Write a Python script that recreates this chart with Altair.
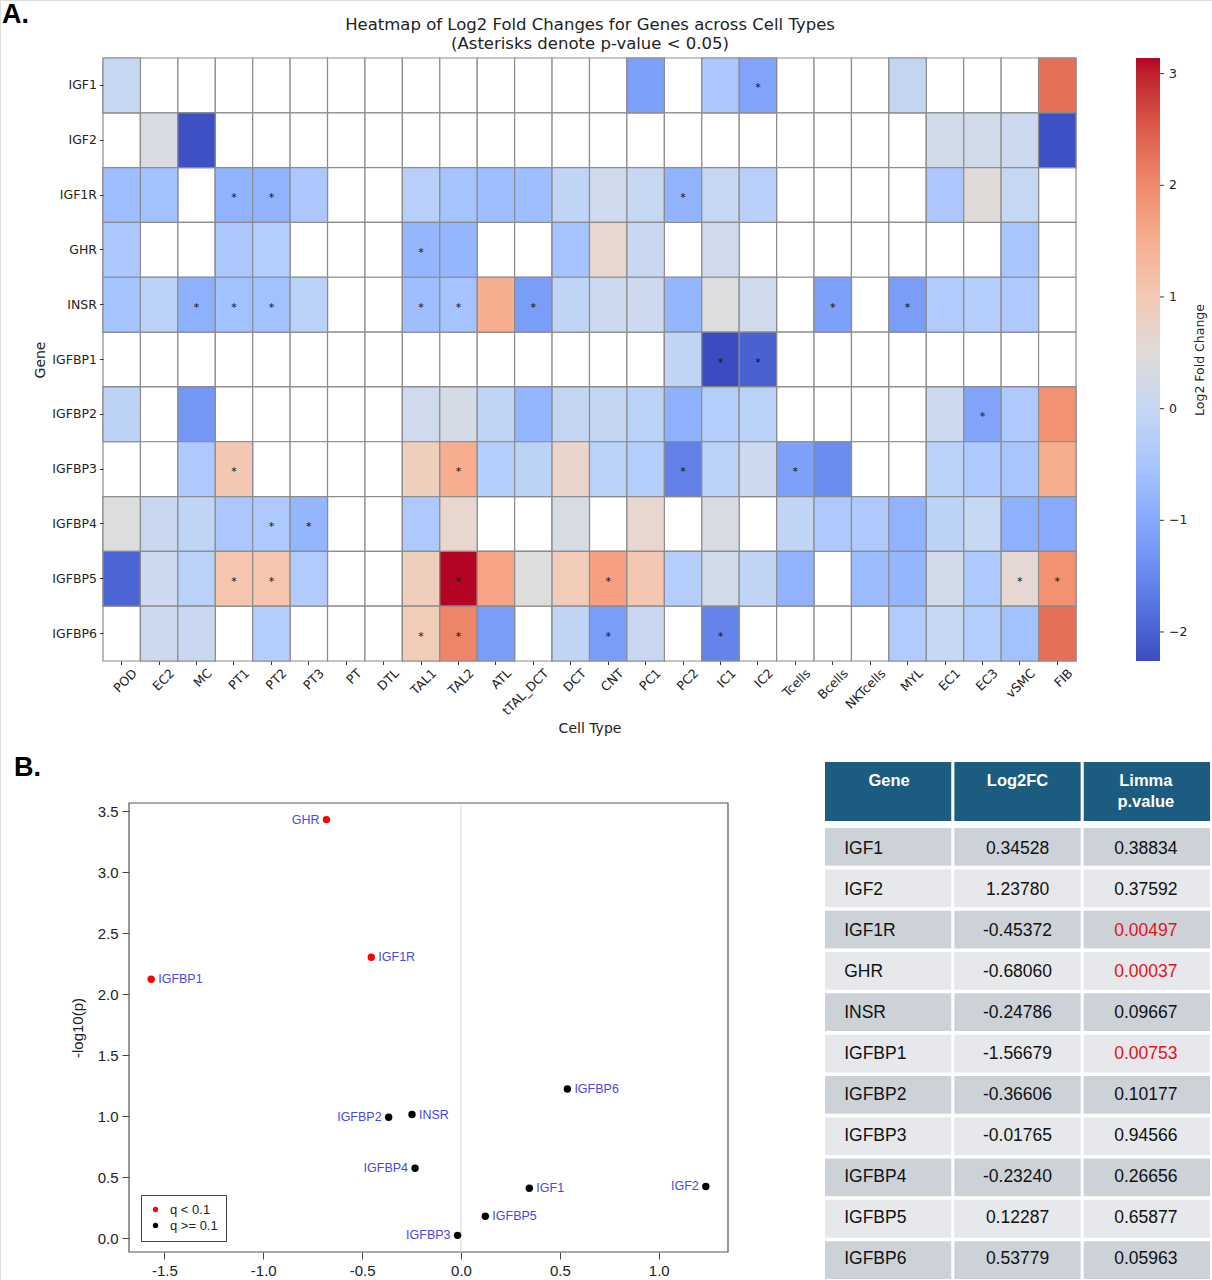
import altair as alt
import numpy as np
import pandas as pd

# ---------------------------------------------------------------- panel A data
GENES = ["IGF1", "IGF2", "IGF1R", "GHR", "INSR", "IGFBP1",
         "IGFBP2", "IGFBP3", "IGFBP4", "IGFBP5", "IGFBP6"]
CELL_TYPES = ["POD", "EC2", "MC", "PT1", "PT2", "PT3", "PT", "DTL", "TAL1", "TAL2",
              "ATL", "tTAL_DCT", "DCT", "CNT", "PC1", "PC2", "IC1", "IC2", "Tcells",
              "Bcells", "NKTcells", "MYL", "EC1", "EC3", "vSMC", "FIB"]
N = None
# log2 fold change per gene, one value per cell type (None = not tested)
#              POD    EC2    MC     PT1    PT2    PT3    PT DTL  TAL1   TAL2   ATL    tTAL   DCT    CNT    PC1    PC2    IC1    IC2    Tc     Bc     NKT    MYL    EC1    EC3    vSMC   FIB
LFC_IGF1   = [0.00,  N,     N,     N,     N,     N,     N, N,   N,     N,     N,     N,     N,     N,     -1.15, N,     -0.45, -1.10, N,     N,     N,     -0.05, N,     N,     N,     2.30]
LFC_IGF2   = [N,     0.30,  -2.20, N,     N,     N,     N, N,   N,     N,     N,     N,     N,     N,     N,     N,     N,     N,     N,     N,     N,     N,     0.20,  0.20,  0.10,  -2.20]
LFC_IGF1R  = [-0.65, -0.60, N,     -0.85, -0.85, -0.45, N, N,   -0.25, -0.55, -0.65, -0.65, -0.10, 0.15,  0.00,  -0.85, 0.00,  -0.25, N,     N,     N,     N,     -0.45, 0.50,  0.00,  N]
LFC_GHR    = [-0.45, N,     N,     -0.45, -0.30, N,     N, N,   -0.80, -0.80, N,     N,     -0.55, 0.65,  0.05,  N,     0.15,  N,     N,     N,     N,     N,     N,     N,     -0.50, N]
LFC_INSR   = [-0.55, -0.20, -0.90, -0.60, -0.60, -0.20, N, N,   -0.65, -0.55, 1.50,  -1.20, -0.10, 0.10,  0.10,  -0.80, 0.40,  0.15,  N,     -1.15, N,     -1.20, -0.35, -0.30, -0.40, N]
LFC_IGFBP1 = [N,     N,     N,     N,     N,     N,     N, N,   N,     N,     N,     N,     N,     N,     N,     -0.10, -2.26, -2.00, N,     N,     N,     N,     N,     N,     N,     N]
LFC_IGFBP2 = [-0.15, N,     -1.30, N,     N,     N,     N, N,   0.15,  0.25,  -0.10, -0.80, -0.05, -0.05, -0.20, -0.90, -0.30, -0.20, N,     N,     N,     N,     0.10,  -1.10, -0.40, 1.90]
LFC_IGFBP3 = [N,     N,     -0.40, 1.05,  N,     N,     N, N,   0.90,  1.50,  -0.30, -0.15, 0.70,  -0.20, -0.30, -1.60, -0.20, 0.10,  -1.15, -1.45, N,     N,     -0.20, -0.40, -0.50, 1.50]
LFC_IGFBP4 = [0.40,  0.05,  -0.10, -0.45, -0.40, -0.80, N, N,   -0.40, 0.65,  N,     N,     0.30,  N,     0.65,  N,     0.30,  N,     -0.10, -0.40, -0.40, -0.85, -0.15, 0.00,  -0.90, -1.00]
LFC_IGFBP5 = [-1.95, 0.10,  -0.20, 1.10,  1.10,  -0.35, N, N,   0.90,  3.14,  1.65,  0.45,  0.95,  1.70,  1.05,  -0.30, 0.20,  -0.10, -0.85, N,     -0.70, -0.80, 0.20,  -0.40, 0.60,  1.90]
LFC_IGFBP6 = [N,     0.10,  0.05,  N,     -0.30, N,     N, N,   0.95,  2.05,  -1.20, N,     -0.10, -1.20, 0.05,  N,     -1.55, N,     N,     N,     N,     -0.35, 0.00,  -0.30, -0.60, 2.30]

LFC_ROWS = [LFC_IGF1, LFC_IGF2, LFC_IGF1R, LFC_GHR, LFC_INSR, LFC_IGFBP1,
            LFC_IGFBP2, LFC_IGFBP3, LFC_IGFBP4, LFC_IGFBP5, LFC_IGFBP6]

# cell types where the gene reaches p < 0.05
SIGNIFICANT = {
    "IGF1": ["IC2"],
    "IGF1R": ["PT1", "PT2", "PC2"],
    "GHR": ["TAL1"],
    "INSR": ["MC", "PT1", "PT2", "TAL1", "TAL2", "tTAL_DCT", "Bcells", "MYL"],
    "IGFBP1": ["IC1", "IC2"],
    "IGFBP2": ["EC3"],
    "IGFBP3": ["PT1", "TAL2", "PC2", "Tcells"],
    "IGFBP4": ["PT2", "PT3"],
    "IGFBP5": ["PT1", "PT2", "TAL2", "CNT", "vSMC", "FIB"],
    "IGFBP6": ["TAL1", "TAL2", "CNT", "IC1"],
}

COLOR_MIN, COLOR_MAX = -2.26, 3.14
COLORBAR_TICKS = [-2, -1, 0, 1, 2, 3]

# ---------------------------------------------------------------- panel B data
LOG2FC = [0.34528, 1.23780, -0.45372, -0.68060, -0.24786, -1.56679,
          -0.36606, -0.01765, -0.23240, 0.12287, 0.53779]
P_VALUE = [0.38834, 0.37592, 0.00497, 0.00037, 0.09667, 0.00753,
           0.10177, 0.94566, 0.26656, 0.65877, 0.05963]
Q_BELOW = [False, False, True, True, False, True, False, False, False, False, False]
LABEL_LEFT = ["GHR", "IGFBP2", "IGFBP4", "IGFBP3", "IGF2"]
TABLE_COLUMNS = ["Gene", "Log2FC", "Limma"]
TABLE_HEADERS = ["Gene", "Log2FC", "Limma\np.value"]

# Moreland's cool-warm diverging map
COOLWARM = [
    (59, 76, 192), (68, 90, 204), (77, 104, 215), (87, 117, 225), (98, 130, 234),
    (108, 142, 241), (119, 154, 247), (130, 165, 251), (141, 176, 254), (152, 185, 255),
    (163, 194, 255), (174, 201, 253), (184, 208, 249), (194, 213, 244), (204, 217, 238),
    (213, 219, 230), (221, 221, 221), (229, 216, 209), (236, 211, 197), (241, 204, 185),
    (245, 196, 173), (247, 187, 160), (247, 177, 148), (247, 166, 135), (244, 154, 123),
    (241, 141, 111), (236, 127, 99), (229, 112, 88), (222, 96, 77), (213, 80, 66),
    (203, 62, 56), (192, 40, 47), (180, 4, 38)]
COOLWARM_HEX = ["#%02x%02x%02x" % c for c in COOLWARM]
COOLWARM_STOPS = list(np.linspace(COLOR_MIN, COLOR_MAX, len(COOLWARM_HEX)))

HEAT_FONT = "DejaVu Sans"
R_FONT = "Liberation Sans"

# ---------------------------------------------------------------- tables
cells = pd.DataFrame(
    [{"gene": g, "cell": c, "lfc": row[j]}
     for g, row in zip(GENES, LFC_ROWS) for j, c in enumerate(CELL_TYPES)])
valid = cells.dropna(subset=["lfc"])
stars = pd.DataFrame([{"gene": g, "cell": c} for g, cs in SIGNIFICANT.items() for c in cs])
cbar_ticks = pd.DataFrame({"v": COLORBAR_TICKS})

genes_df = pd.DataFrame({
    "gene": GENES, "lfc": LOG2FC, "p": P_VALUE,
    "q": ["q < 0.1" if s else "q >= 0.1" for s in Q_BELOW],
    "side": ["left" if g in LABEL_LEFT else "right" for g in GENES],
})

table_rows = []
for i, (g, fc, p, s) in enumerate(zip(GENES, LOG2FC, P_VALUE, Q_BELOW)):
    for col, txt in zip(TABLE_COLUMNS, [g, f"{fc:.5f}", f"{p:.5f}"]):
        table_rows.append({"gene": g, "col": col, "text": txt,
                           "stripe": "dark" if i % 2 == 0 else "light",
                           "red": bool(s and col == "Limma")})
table_df = pd.DataFrame(table_rows)
header_df = pd.DataFrame({"col": TABLE_COLUMNS, "text": TABLE_HEADERS})
one = pd.DataFrame({"k": [0]})

# ---------------------------------------------------------------- panel A: heatmap
def hx():
    return alt.Scale(domain=CELL_TYPES, range=[103, 1076], paddingInner=0, paddingOuter=0)


def hy():
    return alt.Scale(domain=GENES, range=[58, 661], paddingInner=0, paddingOuter=0)


grid = alt.Chart(cells).mark_rect(fill="white", stroke="#8c8c8c", strokeWidth=1.2).encode(
    x=alt.X("cell:N", scale=hx(), sort=CELL_TYPES, axis=alt.Axis(
        orient="bottom", offset=-619, title="Cell Type", domain=False,
        labelAngle=-45, labelAlign="right", labelBaseline="top", labelOffset=9,
        labelPadding=2, labelFont=HEAT_FONT, labelFontSize=12.5, labelColor="#222",
        tickSize=3.5, tickColor="#333", titleFont=HEAT_FONT, titleFontSize=14,
        titleFontWeight="normal", titleColor="#222", titlePadding=4, labelOverlap=False)),
    y=alt.Y("gene:N", scale=hy(), sort=GENES, axis=alt.Axis(
        orient="left", offset=-103, title="Gene", domain=False,
        labelFont=HEAT_FONT, labelFontSize=12.5, labelColor="#222", labelPadding=3,
        tickSize=3.5, tickColor="#333", titleFont=HEAT_FONT, titleFontSize=14,
        titleFontWeight="normal", titleColor="#222", titlePadding=4, labelOverlap=False)),
)

heat = alt.Chart(valid).mark_rect(stroke="#8c8c8c", strokeWidth=1.2).encode(
    x=alt.X("cell:N", scale=hx(), sort=CELL_TYPES, axis=None),
    y=alt.Y("gene:N", scale=hy(), sort=GENES, axis=None),
    color=alt.Color("lfc:Q", scale=alt.Scale(domain=COOLWARM_STOPS, range=COOLWARM_HEX,
                                             interpolate="rgb"),
                    legend=alt.Legend(orient="none", legendX=1136, legendY=58,
                                      direction="vertical", gradientLength=603,
                                      gradientThickness=24, gradientStrokeWidth=0,
                                      title=None, values=COLORBAR_TICKS, format=".0f",
                                      labelFont=HEAT_FONT, labelFontSize=12.5,
                                      labelColor="#222", labelOffset=9)),
)

# small tick marks on the right edge of the colour bar
cbar_tick_marks = alt.Chart(cbar_ticks).mark_rule(color="#333", strokeWidth=1).encode(
    y=alt.Y("v:Q", scale=alt.Scale(domain=[COLOR_MIN, COLOR_MAX], range=[661, 58],
                                   nice=False, zero=False), axis=None),
    x=alt.value(1160), x2=alt.value(1164),
)

asterisks = alt.Chart(stars).mark_text(text="*", font=HEAT_FONT, fontSize=11,
                                       color="#111", dy=3).encode(
    x=alt.X("cell:N", scale=hx(), sort=CELL_TYPES, axis=None),
    y=alt.Y("gene:N", scale=hy(), sort=GENES, axis=None),
)

heat_title = alt.Chart(one).mark_text(
    text="Heatmap of Log2 Fold Changes for Genes across Cell Types\n(Asterisks denote p-value < 0.05)",
    lineBreak="\n", lineHeight=19, font=HEAT_FONT, fontSize=16.5, color="#222",
    align="center", baseline="top").encode(x=alt.value(590), y=alt.value(17))

cbar_title = alt.Chart(one).mark_text(
    text="Log2 Fold Change", font=HEAT_FONT, fontSize=12.5, color="#222",
    angle=270, align="center", baseline="middle").encode(x=alt.value(1200), y=alt.value(360))

# ---------------------------------------------------------------- panel B: volcano
def sx():
    return alt.Scale(domain=[-1.679, 1.350], range=[129, 728], nice=False, zero=False)


def sy():
    return alt.Scale(domain=[-0.112, 3.568], range=[1252, 803], nice=False, zero=False)


frame = alt.Chart(one).mark_rect(fill=None, stroke="#555", strokeWidth=1.2).encode(
    x=alt.value(129), x2=alt.value(728), y=alt.value(803), y2=alt.value(1252))

zero_line = alt.Chart(one).mark_rule(color="#cfcfcf", strokeWidth=1).encode(
    x=alt.X(datum=0, scale=sx(), axis=None), y=alt.value(803), y2=alt.value(1252))

base = alt.Chart(genes_df).transform_calculate(nlp="-log(datum.p) / LN10")

points = base.mark_circle(size=55, opacity=1).encode(
    x=alt.X("lfc:Q", scale=sx(), axis=alt.Axis(
        orient="bottom", offset=-28, title=None, values=[-1.5, -1.0, -0.5, 0.0, 0.5, 1.0],
        format=".1f", labelExpr="replace(datum.label, '\u2212', '-')", domain=False,
        grid=False, tickSize=7, tickColor="#444", labelFont=R_FONT, labelFontSize=15,
        labelColor="#222", labelPadding=4)),
    y=alt.Y("nlp:Q", scale=sy(), axis=alt.Axis(
        orient="left", offset=-129, title="-log10(p)", values=[0, 0.5, 1, 1.5, 2, 2.5, 3, 3.5],
        format=".1f", domain=False, grid=False, tickSize=7, tickColor="#444",
        labelFont=R_FONT, labelFontSize=15, labelColor="#222", labelPadding=4,
        titleFont=R_FONT, titleFontSize=15, titleFontWeight="normal", titleColor="#222",
        titlePadding=12)),
    color=alt.Color("q:N", scale=alt.Scale(domain=["q < 0.1", "q >= 0.1"],
                                           range=["#ff0000", "#000000"]),
                    legend=alt.Legend(orient="none", legendX=141, legendY=1195, title=None,
                                      strokeColor="#444", padding=8, symbolType="circle",
                                      symbolSize=28, symbolStrokeWidth=0, labelFont=R_FONT,
                                      labelFontSize=13, labelColor="#222", rowPadding=2,
                                      labelOffset=8, fillColor="white")),
)

labels_right = base.transform_filter("datum.side == 'right'").mark_text(
    align="left", baseline="middle", dx=7, font=R_FONT, fontSize=12.5,
    color="#4848e0").encode(
    x=alt.X("lfc:Q", scale=sx(), axis=None), y=alt.Y("nlp:Q", scale=sy(), axis=None),
    text="gene:N")
labels_left = base.transform_filter("datum.side == 'left'").mark_text(
    align="right", baseline="middle", dx=-7, font=R_FONT, fontSize=12.5,
    color="#4848e0").encode(
    x=alt.X("lfc:Q", scale=sx(), axis=None), y=alt.Y("nlp:Q", scale=sy(), axis=None),
    text="gene:N")

# ---------------------------------------------------------------- panel B: table
def tx():
    return alt.Scale(domain=TABLE_COLUMNS, range=[825, 1210], paddingInner=0.024, paddingOuter=0)


def ty():
    return alt.Scale(domain=GENES, range=[828, 1279], paddingInner=0.085, paddingOuter=0)


body_rect = alt.Chart(table_df).mark_rect().encode(
    x=alt.X("col:N", scale=tx(), sort=TABLE_COLUMNS, axis=None),
    y=alt.Y("gene:N", scale=ty(), sort=GENES, axis=None),
    color=alt.Color("stripe:N", scale=alt.Scale(domain=["dark", "light"],
                                                range=["#cdd2d8", "#e6e8eb"]), legend=None),
)
# gene names sit left-aligned inside the first column (band centre minus half a band)
body_gene = alt.Chart(table_df).transform_filter("datum.col == 'Gene'").mark_text(
    align="left", baseline="middle", dx=-45, font=R_FONT, fontSize=17.5, color="#111").encode(
    x=alt.X("col:N", scale=tx(), sort=TABLE_COLUMNS, axis=None),
    y=alt.Y("gene:N", scale=ty(), sort=GENES, axis=None),
    text="text:N",
)
body_num = alt.Chart(table_df).transform_filter("datum.col != 'Gene'").mark_text(
    align="center", baseline="middle", font=R_FONT, fontSize=17.5).encode(
    x=alt.X("col:N", scale=tx(), sort=TABLE_COLUMNS, axis=None),
    y=alt.Y("gene:N", scale=ty(), sort=GENES, axis=None),
    text="text:N",
    color=alt.condition("datum.red", alt.value("#e3121b"), alt.value("#111111")),
)

head_rect = alt.Chart(header_df).mark_rect(color="#1b5c80").encode(
    x=alt.X("col:N", scale=tx(), sort=TABLE_COLUMNS, axis=None),
    y=alt.value(762), y2=alt.value(821),
)
head_text = alt.Chart(header_df).mark_text(
    align="center", baseline="top", lineBreak="\n", lineHeight=21, font=R_FONT,
    fontSize=16.5, fontWeight="bold", color="white").encode(
    x=alt.X("col:N", scale=tx(), sort=TABLE_COLUMNS, axis=None),
    y=alt.value(773),
    text="text:N",
)

# ---------------------------------------------------------------- panel letters
letter_a = alt.Chart(one).mark_text(text="A.", font=R_FONT, fontSize=27, fontWeight="bold",
                                    color="black", align="left", baseline="middle").encode(
    x=alt.value(2), y=alt.value(15))
letter_b = alt.Chart(one).mark_text(text="B.", font=R_FONT, fontSize=27, fontWeight="bold",
                                    color="black", align="left", baseline="middle").encode(
    x=alt.value(14), y=alt.value(768))

chart = alt.layer(
    grid, heat, cbar_tick_marks, asterisks, heat_title, cbar_title,
    frame, zero_line, points, labels_right, labels_left,
    body_rect, body_gene, body_num, head_rect, head_text,
    letter_a, letter_b,
).resolve_scale(
    x="independent", y="independent", color="independent"
).properties(
    width=1212, height=1280, padding=0,
    autosize=alt.AutoSizeParams(type="none"),
).configure_view(stroke=None).configure(background="white")

chart.save("out.html", embed_options={"renderer": "svg", "actions": False})
